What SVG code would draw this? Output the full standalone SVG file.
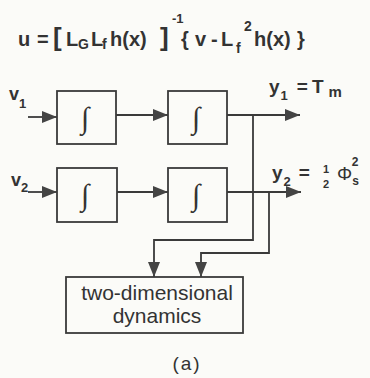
<svg xmlns="http://www.w3.org/2000/svg" width="370" height="378" viewBox="0 0 370 378">
<defs>
<style>
.box{fill:none;stroke:#3a3a3a;stroke-width:1.8}
.ln{fill:none;stroke:#3a3a3a;stroke-width:1.8}
.t{font-family:"Liberation Sans",Arial,sans-serif;fill:#333}
.b{font-weight:bold}
.int{font-family:"Liberation Serif","DejaVu Serif",serif;font-size:30px;fill:#333;text-anchor:middle}
</style>
<marker id="ah" viewBox="0 0 15 12" refX="15" refY="6" markerWidth="15" markerHeight="12" markerUnits="userSpaceOnUse" orient="auto">
<path d="M0,0 L15,6 L0,12 Z" fill="#444"/>
</marker>
</defs>
<rect width="370" height="378" fill="#fbfbf8"/>
<g id="equation" class="t b" font-size="20">
<text x="18" y="46">u</text>
<text x="37" y="46">=</text>
<text x="53" y="46" font-size="26">[</text>
<text x="66" y="46">L</text>
<text x="78" y="49" font-size="14">G</text>
<text x="91" y="46">L</text>
<text x="102" y="49" font-size="14">f</text>
<text x="110" y="46">h(x)</text>
<text x="160" y="46" font-size="26">]</text>
<text x="172" y="23" font-size="13">-1</text>
<text x="181" y="46">{</text>
<text x="195" y="46">v</text>
<text x="211" y="46">-</text>
<text x="221" y="46">L</text>
<text x="236" y="53" font-size="14">f</text>
<text x="244" y="31" font-size="14">2</text>
<text x="254" y="46">h(x)</text>
<text x="297" y="46">}</text>
</g>
<g id="v1" class="t b" font-size="18"><text x="9" y="100">v<tspan font-size="13" dy="8">1</tspan></text></g>
<g id="v2" class="t b" font-size="18"><text x="11" y="186">v<tspan font-size="13" dy="6">2</tspan></text></g>
<g id="int1"><rect class="box" x="57" y="91" width="59" height="53"/><text class="int" x="85" y="128">∫</text></g>
<g id="int2"><rect class="box" x="168" y="91" width="59" height="53"/><text class="int" x="196" y="128">∫</text></g>
<g id="int3"><rect class="box" x="57" y="168" width="60" height="54"/><text class="int" x="85" y="205">∫</text></g>
<g id="int4"><rect class="box" x="168" y="168" width="59" height="54"/><text class="int" x="196" y="205">∫</text></g>
<g id="dyn"><rect class="box" x="66" y="277" width="177" height="56"/>
<text class="t" font-size="21" x="157" y="300" text-anchor="middle">two-dimensional</text>
<text class="t" font-size="21" x="157" y="323" text-anchor="middle">dynamics</text></g>
<g id="y1" class="t b" font-size="19">
<text x="269" y="93">y<tspan font-size="13" dx="1" dy="7">1</tspan><tspan dx="9" dy="-7">=</tspan><tspan dx="4">T</tspan><tspan font-size="15" dx="5" dy="4">m</tspan></text>
</g>
<g id="y2" class="t b" font-size="19">
<text x="272" y="179">y<tspan font-size="13" dx="1" dy="7">2</tspan><tspan dx="8" dy="-7">=</tspan></text>
<text x="323" y="173" font-size="11">1</text>
<text x="323" y="188" font-size="11">2</text>
<text x="337" y="180" font-weight="normal">Φ<tspan font-size="12" font-weight="bold" dy="5">s</tspan><tspan font-size="12" font-weight="bold" dx="-7" dy="-19">2</tspan></text>
</g>
<g id="connectors">
<path class="ln" d="M28,117 H57" marker-end="url(#ah)"/>
<path class="ln" d="M28,192 H57" marker-end="url(#ah)"/>
<path class="ln" d="M116,115 H168" marker-end="url(#ah)"/>
<path class="ln" d="M117,192 H168" marker-end="url(#ah)"/>
<path class="ln" d="M227,115 H300" marker-end="url(#ah)"/>
<path class="ln" d="M227,192 H301" marker-end="url(#ah)"/>
<path class="ln" d="M253,115 V240 H154 V277" marker-end="url(#ah)"/>
<path class="ln" d="M269,192 V253 H201 V277" marker-end="url(#ah)"/>
</g>
<text id="caption" class="t" font-size="19" x="187" y="370" text-anchor="middle" letter-spacing="2">(a)</text>
</svg>
